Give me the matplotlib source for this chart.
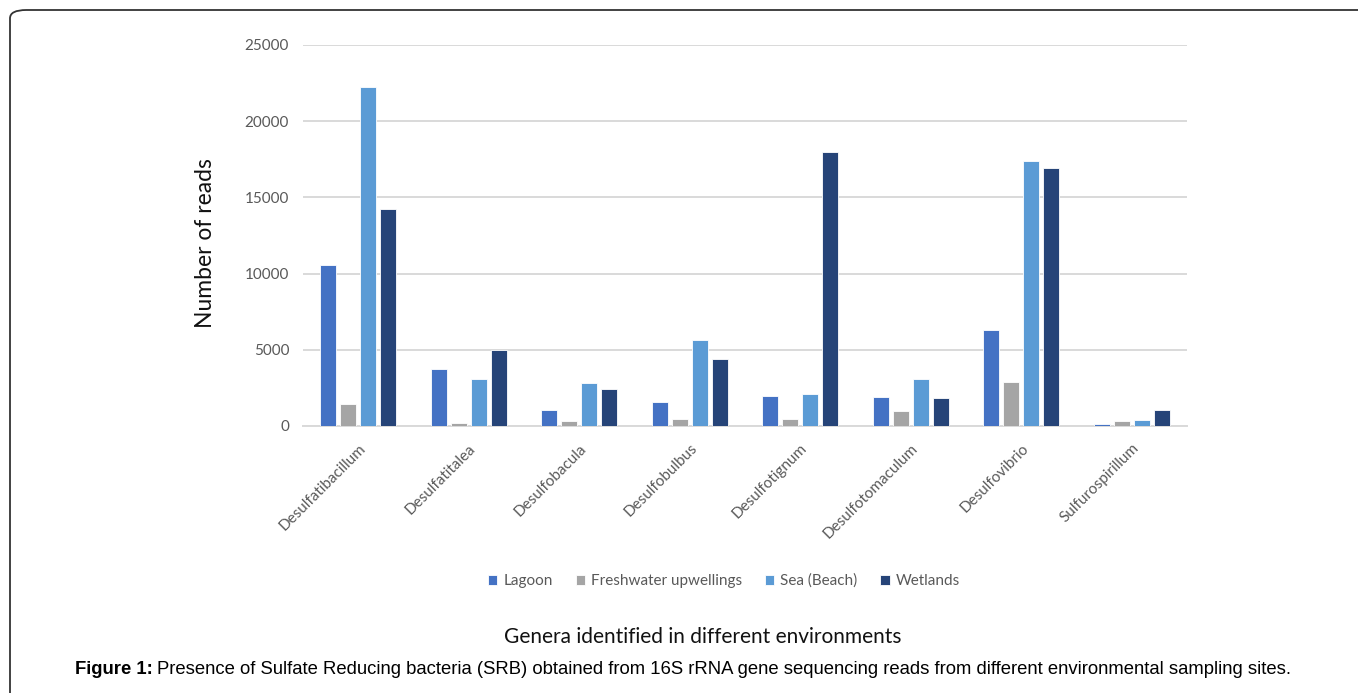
import matplotlib.pyplot as plt
import numpy as np
from matplotlib.patches import FancyBboxPatch

genera = ['Desulfatibacillum', 'Desulfatitalea', 'Desulfobacula', 'Desulfobulbus',
          'Desulfotignum', 'Desulfotomaculum', 'Desulfovibrio', 'Sulfurospirillum']
sites = ['Lagoon', 'Freshwater upwellings', 'Sea (Beach)', 'Wetlands']

lagoon = [10550, 3720, 1030, 1600, 1970, 1900, 6280, 150]
freshwater = [1470, 200, 330, 460, 460, 970, 2870, 330]
sea = [22240, 3110, 2800, 5630, 2100, 3070, 17380, 400]
wetlands = [14230, 4970, 2410, 4380, 17970, 1840, 16900, 1050]

colors = ['#4472C4', '#A5A5A5', '#5B9BD5', '#264478']

plt.rcParams['font.family'] = ['Lato', 'DejaVu Sans']

fig = plt.figure(figsize=(13.58, 6.93), dpi=100)
fig.patch.set_facecolor('white')

# frame around the figure (rounded top-left, runs off right/bottom)
frame = FancyBboxPatch((10 / 1358, -0.2), 1.2, 1 - 10 / 693 + 0.2,
                       boxstyle='round,pad=0,rounding_size=0.012',
                       transform=fig.transFigure, fill=False,
                       edgecolor='#333333', linewidth=1.3, zorder=0)
fig.patches.append(frame)

ax = fig.add_axes([303 / 1358, 1 - 426 / 693, (1187 - 303) / 1358, (426 - 45) / 693])

x = np.arange(len(genera))
slot = 0.181
width = 0.142
for i, (vals, name) in enumerate(zip([lagoon, freshwater, sea, wetlands], sites)):
    ax.bar(x + (i - 1.5) * slot, vals, width, color=colors[i], label=name,
           edgecolor='white', linewidth=0.6, zorder=3)

ax.set_xlim(-0.5, len(genera) - 0.5)
ax.set_ylim(0, 25000)
ax.set_yticks(range(0, 25001, 5000))
ax.yaxis.grid(True, color='#D9D9D9', linewidth=1.4, zorder=0)
for s in ['top', 'right', 'left']:
    ax.spines[s].set_visible(False)
ax.spines['bottom'].set_color('#D9D9D9')
ax.spines['bottom'].set_linewidth(1.4)
ax.tick_params(axis='both', length=0, colors='#595959', labelsize=11)
ax.tick_params(axis='y', pad=10)
ax.set_xticks(x)
ax.set_xticklabels(genera, rotation=45, ha='right', va='top',
                   rotation_mode='anchor')
ax.tick_params(axis='x', pad=11)

fig.text(206 / 1358, 1 - 243 / 693, 'Number of reads', rotation=90,
         ha='center', va='center', fontsize=16.5, color='#111111')

handles, labels = ax.get_legend_handles_labels()
fig.legend(handles, labels, loc='center', bbox_to_anchor=(724 / 1358, 1 - 581 / 693),
           ncol=4, frameon=False, fontsize=11, labelcolor='#595959',
           handlelength=0.6, handleheight=0.6, handletextpad=0.4, columnspacing=1.5)

fig.text(703 / 1358, 1 - 637 / 693, 'Genera identified in different environments',
         ha='center', va='center', fontsize=15, color='#111111')

# caption: bold label followed by regular text
renderer = fig.canvas.get_renderer()
cap_y = 1 - 670 / 693
t1 = fig.text(75 / 1358, cap_y, 'Figure 1:', fontsize=13.3, fontweight='bold',
              family='Liberation Sans', ha='left', va='center', color='black')
bb = t1.get_window_extent(renderer)
fig.text((bb.x1 + 4) / 1358, cap_y,
         'Presence of Sulfate Reducing bacteria (SRB) obtained from 16S rRNA gene '
         'sequencing reads from different environmental sampling sites.',
         fontsize=13.3, family='Liberation Sans', ha='left', va='center', color='black')

fig.savefig('out.png', dpi=100, facecolor='white')
